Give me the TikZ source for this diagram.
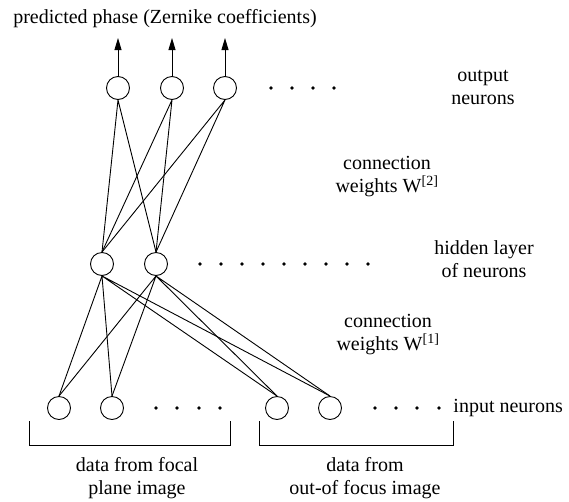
\documentclass[tikz,border=0pt]{standalone}
\usepackage{fontspec}
\setmainfont{Liberation Serif}
\usepackage{tikz}
\usetikzlibrary{arrows.meta}

\begin{document}
\begin{tikzpicture}[x=1pt,y=-1pt,>={Triangle[length=12pt,width=7pt]},line width=0.9pt,
  neuron/.style={draw,circle,inner sep=0pt,minimum size=23pt},
  lbl/.style={font=\fontsize{20}{23}\selectfont,align=center,inner sep=0pt}]
\useasboundingbox (0,0) rectangle (569,501);
\node[lbl] (title) at (165,19) {predicted phase (Zernike coefficients)};
% output layer
\node[neuron] (o1) at (118,88) {};
\node[neuron] (o2) at (172,88) {};
\node[neuron] (o3) at (225,88) {};
\coordinate (t1) at (118,38);
\coordinate (t2) at (172,38);
\coordinate (t3) at (225,38);
\draw[->] (o1.north) -- (t1);
\draw[->] (o2.north) -- (t2);
\draw[->] (o3.north) -- (t3);
% hidden layer
\node[neuron] (h1) at (102,264) {};
\node[neuron] (h2) at (156,264) {};
% input layer
\node[neuron] (i1) at (59,408) {};
\node[neuron] (i2) at (112,408) {};
\node[neuron] (i3) at (277,408) {};
\node[neuron] (i4) at (330,408) {};
% weights W2
\draw (o1.south) -- (h1.north) (o1.south) -- (h2.north);
\draw (o2.south) -- (h1.north) (o2.south) -- (h2.north);
\draw (o3.south) -- (h1.north) (o3.south) -- (h2.north);
% weights W1
\draw (h1.south) -- (i1.north) (h1.south) -- (i2.north) (h1.south) -- (i3.north) (h1.south) -- (i4.north);
\draw (h2.south) -- (i1.north) (h2.south) -- (i2.north) (h2.south) -- (i3.north) (h2.south) -- (i4.north);
% dots
\fill (271,88) circle (1.8) (292,88) circle (1.8) (313,88) circle (1.8) (334,88) circle (1.8);
\fill (200,264) circle (1.8) (221,264) circle (1.8) (242,264) circle (1.8) (263,264) circle (1.8)
  (284,264) circle (1.8) (305,264) circle (1.8) (326,264) circle (1.8) (347,264) circle (1.8) (368,264) circle (1.8);
\fill (156,408) circle (1.8) (177,408) circle (1.8) (199,408) circle (1.8) (220,408) circle (1.8);
\fill (375,408) circle (1.8) (396,408) circle (1.8) (417,408) circle (1.8) (439,408) circle (1.8);
% labels
\node[lbl] (outlbl) at (483,87) {output\\neurons};
\node[lbl] (w2lbl) at (387,177) {connection\\weights W\textsuperscript{[2]}};
\node[lbl] (hidlbl) at (484,259) {hidden layer\\of neurons};
\node[lbl] (w1lbl) at (388,335) {connection\\weights W\textsuperscript{[1]}};
\node[lbl,anchor=west] (inlbl) at (453,408) {input neurons};
% brackets
\draw (29,421) -- (29,445) -- (230,445) -- (230,421);
\draw (259,421) -- (259,445) -- (453,445) -- (453,421);
\node[lbl] (focal) at (137,478) {data from focal\\plane image};
\node[lbl] (defocus) at (365,478) {data from\\out-of focus image};
\end{tikzpicture}
\end{document}
